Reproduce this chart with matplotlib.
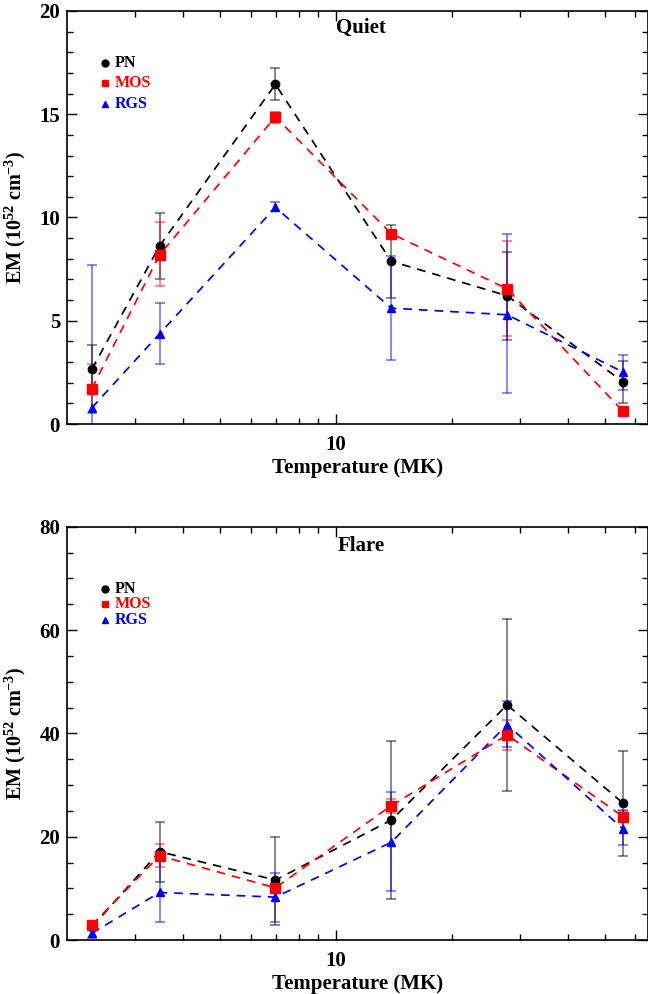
import matplotlib
matplotlib.use("Agg")
import matplotlib.pyplot as plt
from matplotlib.ticker import FixedLocator, MultipleLocator, NullFormatter, FixedFormatter
import numpy as np

plt.rcParams['font.family'] = ['Liberation Serif', 'DejaVu Serif']
plt.rcParams['font.weight'] = 'bold'
plt.rcParams['mathtext.fontset'] = 'custom'
plt.rcParams['mathtext.rm'] = 'Liberation Serif:bold'
plt.rcParams['mathtext.bf'] = 'Liberation Serif:bold'
plt.rcParams['mathtext.it'] = 'Liberation Serif:bold'
plt.rcParams['mathtext.default'] = 'rm'

# Temperatures (MK)
temperature = [2.32, 3.48, 6.96, 13.92, 27.85, 55.7]

# Quiet panel
quiet_pn = [2.65, 8.62, 16.45, 7.88, 6.21, 2.04]
quiet_pn_lo = [1.47, 7.01, 15.68, 6.10, 4.07, 1.02]
quiet_pn_hi = [3.83, 10.23, 17.26, 9.65, 8.35, 3.03]
quiet_mos = [1.71, 8.19, 14.87, 9.22, 6.55, 0.62]
quiet_mos_lo = [0.51, 6.66, 14.60, 9.00, 4.24, 0.50]
quiet_mos_hi = [2.92, 9.77, 15.10, 9.40, 8.85, 0.75]
quiet_rgs = [0.78, 4.37, 10.49, 5.61, 5.29, 2.52]
quiet_rgs_lo = [-6.1, 2.91, 10.33, 3.08, 1.51, 1.63]
quiet_rgs_hi = [7.69, 5.88, 10.75, 8.14, 9.19, 3.36]

# Flare panel
flare_pn = [2.5, 17.1, 11.6, 23.2, 45.5, 26.5]
flare_pn_lo = [2.0, 11.3, 3.0, 7.9, 28.9, 16.3]
flare_pn_hi = [3.0, 22.8, 20.0, 38.5, 62.1, 36.6]
flare_mos = [2.9, 16.3, 10.1, 26.0, 39.7, 23.9]
flare_mos_lo = [1.9, 14.2, 9.4, 24.6, 36.8, 22.9]
flare_mos_hi = [3.7, 18.5, 11.0, 27.2, 42.6, 25.0]
flare_rgs = [1.3, 9.2, 8.3, 18.9, 41.7, 21.5]
flare_rgs_lo = [0.45, 3.5, 3.4, 9.4, 37.4, 18.3]
flare_rgs_hi = [2.1, 15.5, 13.0, 28.6, 46.3, 25.2]

labels = ['PN', 'MOS', 'RGS']
colors = ['black', 'red', 'blue']
markers = ['o', 's', '^']
msizes = [6, 6.5, 6]

fig = plt.figure(figsize=(6.48, 9.94), dpi=100)
ax1 = fig.add_axes([67/648, 1 - 424/994, 581/648, 413/994])
ax2 = fig.add_axes([67/648, 1 - 940/994, 581/648, 413.3/994])

panels = [
    (ax1, 'Quiet', (0, 20), 5, 1,
     [(quiet_pn, quiet_pn_lo, quiet_pn_hi), (quiet_mos, quiet_mos_lo, quiet_mos_hi),
      (quiet_rgs, quiet_rgs_lo, quiet_rgs_hi)],
     [0.874, 0.826, 0.775], 0.959),
    (ax2, 'Flare', (0, 80), 20, 5,
     [(flare_pn, flare_pn_lo, flare_pn_hi), (flare_mos, flare_mos_lo, flare_mos_hi),
      (flare_rgs, flare_rgs_lo, flare_rgs_hi)],
     [0.849, 0.812, 0.774], 0.954),
]

x = np.array(temperature)
for ax, title, ylim, ymaj, ymin, series, legy, titley in panels:
    for (vals, lo, hi), c, m, ms in zip(series, colors, markers, msizes):
        v = np.array(vals)
        yerr = [v - np.array(lo), np.array(hi) - v]
        ax.errorbar(x, v, yerr=yerr, fmt='none', ecolor=c, alpha=0.5,
                    elinewidth=1.3, capsize=3.5, capthick=1.3, zorder=2)
        ax.plot(x, v, ls=(0, (5, 4)), color=c, lw=1.25, zorder=3)
        ax.plot(x, v, ls='none', marker=m, color=c, ms=ms, mec=c, zorder=4)
    ax.set_xscale('log')
    ax.set_xlim(2.0, 64.7)
    ax.set_ylim(*ylim)
    ax.xaxis.set_major_locator(FixedLocator([10]))
    ax.xaxis.set_major_formatter(FixedFormatter(['10']))
    ax.xaxis.set_minor_locator(FixedLocator([3, 4, 5, 6, 7, 8, 9, 20, 30, 40, 50, 60]))
    ax.xaxis.set_minor_formatter(NullFormatter())
    ax.yaxis.set_major_locator(MultipleLocator(ymaj))
    ax.yaxis.set_minor_locator(MultipleLocator(ymin))
    ax.tick_params(which='both', direction='in', top=True, right=True,
                   labelsize=15, width=1.0)
    ax.tick_params(which='major', length=7)
    ax.tick_params(which='minor', length=4)
    ax.tick_params(axis='x', which='major', pad=8)
    ax.tick_params(axis='y', which='major', pad=5)
    for lab in ax.get_xticklabels() + ax.get_yticklabels():
        lab.set_fontweight('bold')
    for sp in ax.spines.values():
        sp.set_linewidth(1.2)
    ax.set_xlabel('Temperature (MK)', fontsize=15, fontweight='bold', labelpad=2)
    ax.set_ylabel('EM (10$^{52}$ cm$^{-3}$)', fontsize=14.5, fontweight='bold', labelpad=8)
    ax.text(0.506, titley, title, transform=ax.transAxes, ha='center', va='center',
            fontsize=15, fontweight='bold')
    for lab, c, m, yy in zip(labels, colors, markers, legy):
        ax.plot([0.065], [yy], transform=ax.transAxes, marker=m, color=c, ms=5,
                ls='none', clip_on=False)
        ax.text(0.082, yy, lab, transform=ax.transAxes, ha='left', va='center',
                color=c, fontsize=11.5, fontweight='bold')

fig.savefig('out.png', dpi=100)
